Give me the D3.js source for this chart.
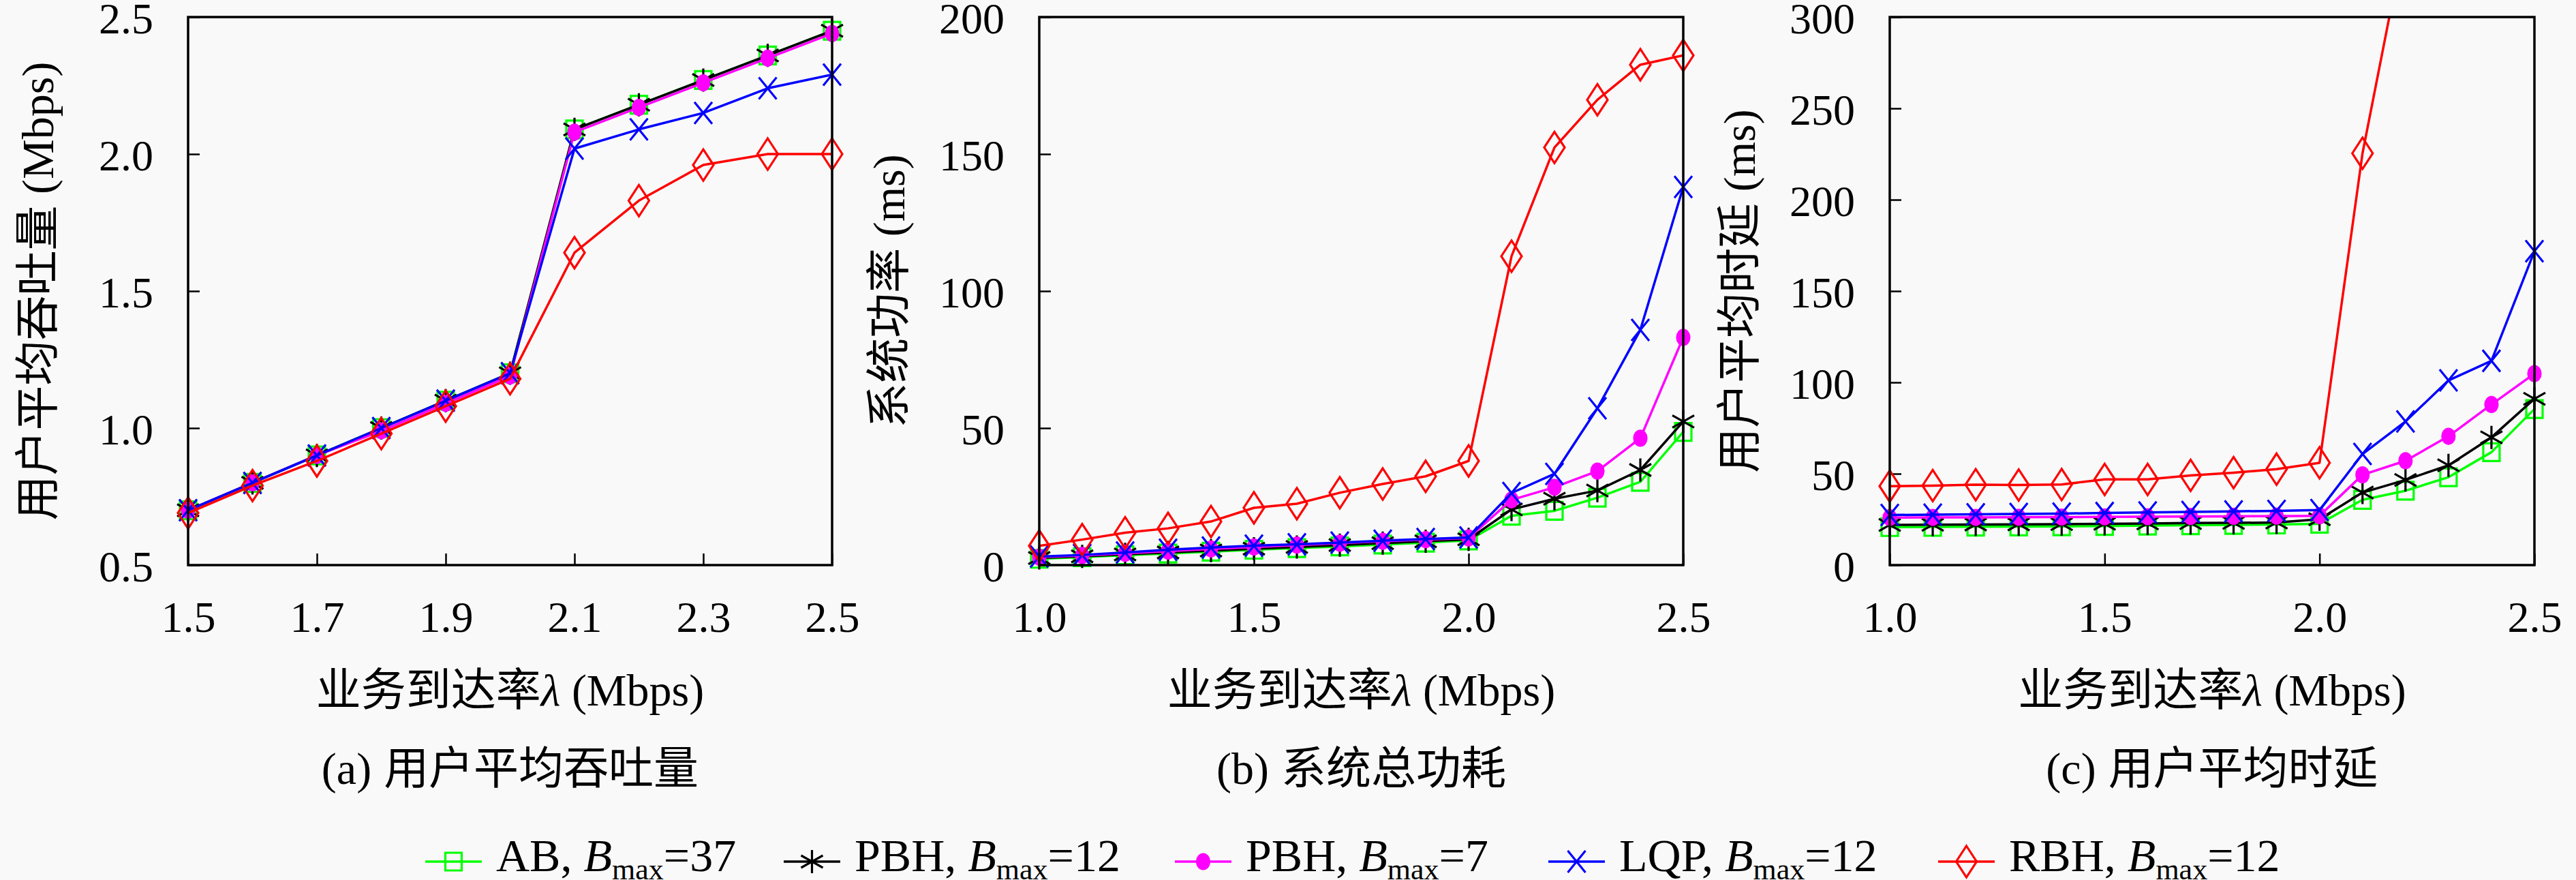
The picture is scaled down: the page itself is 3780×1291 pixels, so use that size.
<!DOCTYPE html>
<html>
<head>
<meta charset="utf-8">
<script src="https://cdn.jsdelivr.net/npm/d3@7"></script>
<style>
  body { margin: 0; background: #f9f9f9; }
  svg { display: block; }
  text { font-family: "Liberation Serif", "Noto Sans CJK SC", serif; fill: #000; }
</style>
</head>
<body>
<svg id="chart" width="3780" height="1291"></svg>
<script>
// arrival rate values on the x axis (Mbps)
const rateA = [1.5, 1.6, 1.7, 1.8, 1.9, 2.0, 2.1, 2.2, 2.3, 2.4, 2.5];
const rateBC = [1.0, 1.1, 1.2, 1.3, 1.4, 1.5, 1.6, 1.7, 1.8, 1.9, 2.0, 2.1, 2.2, 2.3, 2.4, 2.5];

// (a) average user throughput (Mbps)
const abThroughput    = [0.70, 0.80, 0.90, 1.00, 1.10, 1.20, 2.09, 2.18, 2.27, 2.36, 2.45];
const pbh12Throughput = [0.70, 0.80, 0.90, 1.00, 1.10, 1.20, 2.09, 2.18, 2.27, 2.36, 2.45];
const pbh7Throughput  = [0.70, 0.80, 0.90, 0.99, 1.09, 1.19, 2.08, 2.17, 2.26, 2.35, 2.44];
const lqpThroughput   = [0.70, 0.80, 0.90, 1.00, 1.10, 1.20, 2.02, 2.09, 2.15, 2.24, 2.29];
const rbhThroughput   = [0.69, 0.79, 0.88, 0.98, 1.08, 1.18, 1.64, 1.83, 1.96, 2.00, 2.00];

// (b) total system power
const abPower    = [2.3, 2.9, 3.6, 4.2, 4.9, 5.6, 6.2, 6.8, 7.5, 8.2, 9.0, 18.0, 19.8, 24.6, 30.4, 48.6];
const pbh12Power = [2.6, 3.2, 3.9, 4.6, 5.3, 6.0, 6.6, 7.3, 8.0, 8.7, 9.4, 20.3, 24.2, 27.2, 34.7, 52.4];
const pbh7Power  = [2.9, 3.5, 4.3, 5.1, 5.9, 6.6, 7.3, 8.0, 8.7, 9.3, 9.9, 23.8, 28.4, 34.3, 46.3, 83.1];
const lqpPower   = [3.1, 3.7, 4.6, 5.6, 6.4, 7.1, 7.6, 8.2, 8.9, 9.5, 10.1, 26.3, 33.3, 57.2, 85.8, 138.0];
const rbhPower   = [7.0, 9.3, 11.8, 13.4, 15.9, 20.9, 22.4, 26.4, 29.6, 32.4, 38.0, 112.7, 152.4, 169.8, 182.6, 186.0];

// (c) average user delay (ms), RBH leaves the axis after 2.1
const abDelay    = [20.8, 20.9, 21.0, 21.1, 21.2, 21.4, 21.6, 21.8, 22.0, 22.2, 22.6, 35.7, 40.7, 48.1, 61.8, 85.4];
const pbh12Delay = [22.0, 22.1, 22.2, 22.3, 22.4, 22.6, 22.8, 23.0, 23.1, 23.3, 25.1, 39.7, 46.6, 54.6, 69.9, 91.0];
const pbh7Delay  = [26.0, 26.1, 26.1, 26.2, 26.3, 26.4, 26.5, 26.6, 26.7, 26.8, 27.0, 49.4, 57.1, 70.5, 87.9, 104.8];
const lqpDelay   = [27.4, 27.6, 27.8, 28.0, 28.2, 28.5, 28.8, 29.1, 29.4, 29.7, 30.1, 60.8, 78.6, 101.1, 111.8, 171.8];
const rbhDelay   = [43.2, 43.5, 44.0, 43.8, 44.1, 46.9, 46.9, 49.1, 50.6, 52.5, 56.0, 225.4, 345.0, 380.0, 400.0, 410.0];

// tick values
const xTicksA = [1.5, 1.7, 1.9, 2.1, 2.3, 2.5];
const xTicksBC = [1.0, 1.5, 2.0, 2.5];
const yTicksA = [0.5, 1.0, 1.5, 2.0, 2.5];
const yTicksB = [0, 50, 100, 150, 200];
const yTicksC = [0, 50, 100, 150, 200, 250, 300];

// legend labels
const seriesNames = ["AB", "PBH", "PBH", "LQP", "RBH"];
const seriesBmax = ["37", "12", "7", "12", "12"];

// styles for each series (same order as the names)
const seriesStyles = [
  { colour: "#00ff00", marker: "square" },
  { colour: "#000000", marker: "asterisk" },
  { colour: "#ff00ff", marker: "dot" },
  { colour: "#0000ff", marker: "cross" },
  { colour: "#ff0000", marker: "diamond" }
];

const markerPaths = {
  square: "M-12,-13h24v26h-24z",
  asterisk: "M0,-17V17M-16,-9L16,9M-16,9L16,-9",
  dot: "M-9,0a9,11 0 1,0 18,0a9,11 0 1,0 -18,0",
  cross: "M-13,-16L13,16M-13,16L13,-16",
  diamond: "M0,-23L15,0L0,23L-15,0Z"
};

class linePanel {
  constructor(_config, _data) {
    // Set up configuration of the panel
    this.config = {
      parentElement: _config.parentElement,
      left: _config.left,
      right: _config.right,
      top: _config.top || 25,
      bottom: _config.bottom || 829,
      xTicks: _config.xTicks,
      yTicks: _config.yTicks,
      yFormat: _config.yFormat,
      yLabel: _config.yLabel,
      caption: _config.caption,
      id: _config.id
    }
    this.data = _data;
  }

  initVis() {
    let vis = this;
    let c = vis.config;

    vis.svg = d3.select(c.parentElement);
    vis.chart = vis.svg.append("g").attr("id", c.id);

    vis.xScale = d3.scaleLinear()
      .domain(d3.extent(vis.data.x))
      .range([c.left, c.right]);

    vis.yScale = d3.scaleLinear()
      .domain(d3.extent(c.yTicks))
      .range([c.bottom, c.top]);

    // ticks point inwards, only on left and bottom
    vis.xAxis = d3.axisBottom(vis.xScale)
      .tickValues(c.xTicks)
      .tickSize(-17)
      .tickPadding(53)
      .tickFormat(d3.format(".1f"));

    vis.yAxis = d3.axisLeft(vis.yScale)
      .tickValues(c.yTicks)
      .tickSize(-17)
      .tickPadding(51)
      .tickFormat(c.yFormat);

    // clip lines that run off the top
    vis.chart.append("clipPath")
      .attr("id", c.id + "-clip")
      .append("rect")
        .attr("x", c.left)
        .attr("y", c.top)
        .attr("width", c.right - c.left)
        .attr("height", c.bottom - c.top);

    vis.line = d3.line()
      .x(d => vis.xScale(d.x))
      .y(d => vis.yScale(d.y));

    vis.render();
  }

  render() {
    let vis = this;
    let c = vis.config;
    let yMax = vis.yScale.domain()[1];

    vis.series = vis.data.series.map(s => ({
      style: s.style,
      points: vis.data.x.map((x, i) => ({ x: x, y: s.values[i] }))
    }));

    // axes
    let xAxisG = vis.chart.append("g")
      .attr("transform", `translate(0,${c.bottom})`)
      .call(vis.xAxis);
    let yAxisG = vis.chart.append("g")
      .attr("transform", `translate(${c.left},0)`)
      .call(vis.yAxis);

    [xAxisG, yAxisG].forEach(g => {
      g.select(".domain").remove();
      g.selectAll(".tick line").attr("stroke", "#000").attr("stroke-width", 2.5);
      g.selectAll(".tick text")
        .attr("font-family", "Liberation Serif")
        .attr("font-size", 64)
        .attr("fill", "#000");
    });
    yAxisG.selectAll(".tick text").attr("dy", "0.36em");

    // one group per series: line then markers
    let seriesG = vis.chart.selectAll("g.series")
      .data(vis.series)
      .join("g")
        .attr("class", "series");

    seriesG.append("path")
      .attr("clip-path", `url(#${c.id}-clip)`)
      .attr("fill", "none")
      .attr("stroke", d => d.style.colour)
      .attr("stroke-width", 3.5)
      .attr("stroke-linejoin", "round")
      .attr("d", d => vis.line(d.points));

    seriesG.selectAll("path.marker")
      .data(d => d.points.filter(p => p.y <= yMax).map(p => ({ p: p, style: d.style })))
      .join("path")
        .attr("class", "marker")
        .attr("transform", d => `translate(${vis.xScale(d.p.x)},${vis.yScale(d.p.y)})`)
        .attr("d", d => markerPaths[d.style.marker])
        .attr("fill", d => d.style.marker === "dot" ? d.style.colour : "none")
        .attr("stroke", d => d.style.colour)
        .attr("stroke-width", 3.2);

    // frame
    vis.chart.append("rect")
      .attr("x", c.left)
      .attr("y", c.top)
      .attr("width", c.right - c.left)
      .attr("height", c.bottom - c.top)
      .attr("fill", "none")
      .attr("stroke", "#000")
      .attr("stroke-width", 3.5);

    let midX = (c.left + c.right) / 2;
    let midY = (c.top + c.bottom) / 2;

    // y axis label
    vis.chart.append("text")
      .attr("transform", `translate(${c.left - 222},${midY}) rotate(-90)`)
      .attr("text-anchor", "middle")
      .attr("dy", "0.36em")
      .attr("font-size", 66)
      .text(c.yLabel);

    // x axis label
    let xl = vis.chart.append("text")
      .attr("x", midX)
      .attr("y", 1035)
      .attr("text-anchor", "middle")
      .attr("font-size", 66);
    xl.append("tspan").text("业务到达率");
    xl.append("tspan").attr("font-style", "italic").text("λ");
    xl.append("tspan").text(" (Mbps)");

    // sub-figure caption
    let cap = vis.chart.append("text")
      .attr("x", midX)
      .attr("y", 1150)
      .attr("text-anchor", "middle")
      .attr("font-size", 66);
    cap.append("tspan").text(c.caption[0]);
    cap.append("tspan").attr("dx", 18).text(c.caption[1]);
  }
}

const svg = d3.select("#chart");
svg.append("rect").attr("width", 3780).attr("height", 1291).attr("fill", "#f9f9f9");

const panelA = new linePanel({
  parentElement: "#chart", id: "panelA", left: 276, right: 1221,
  xTicks: xTicksA, yTicks: yTicksA, yFormat: d3.format(".1f"),
  yLabel: "用户平均吞吐量 (Mbps)", caption: ["(a)", "用户平均吞吐量"]
}, {
  x: rateA,
  series: [abThroughput, pbh12Throughput, pbh7Throughput, lqpThroughput, rbhThroughput]
    .map((v, i) => ({ values: v, style: seriesStyles[i] }))
});
panelA.initVis();

const panelB = new linePanel({
  parentElement: "#chart", id: "panelB", left: 1525, right: 2470,
  xTicks: xTicksBC, yTicks: yTicksB, yFormat: d3.format("d"),
  yLabel: "系统功率 (ms)", caption: ["(b)", "系统总功耗"]
}, {
  x: rateBC,
  series: [abPower, pbh12Power, pbh7Power, lqpPower, rbhPower]
    .map((v, i) => ({ values: v, style: seriesStyles[i] }))
});
panelB.initVis();

const panelC = new linePanel({
  parentElement: "#chart", id: "panelC", left: 2773, right: 3719,
  xTicks: xTicksBC, yTicks: yTicksC, yFormat: d3.format("d"),
  yLabel: "用户平均时延 (ms)", caption: ["(c)", "用户平均时延"]
}, {
  x: rateBC,
  series: [abDelay, pbh12Delay, pbh7Delay, lqpDelay, rbhDelay]
    .map((v, i) => ({ values: v, style: seriesStyles[i] }))
});
panelC.initVis();

// legend along the bottom
const legendLineX = [624, 1150, 1724, 2272, 2844];
const legendY = 1264;

const legend = svg.append("g").attr("id", "legend");
seriesStyles.forEach((s, i) => {
  let x0 = legendLineX[i];
  let item = legend.append("g");
  item.append("line")
    .attr("x1", x0).attr("x2", x0 + 83)
    .attr("y1", legendY).attr("y2", legendY)
    .attr("stroke", s.colour)
    .attr("stroke-width", 3.5);
  item.append("path")
    .attr("transform", `translate(${x0 + 41.5},${legendY})`)
    .attr("d", markerPaths[s.marker])
    .attr("fill", s.marker === "dot" ? s.colour : "none")
    .attr("stroke", s.colour)
    .attr("stroke-width", 3.2);
  let t = item.append("text")
    .attr("x", x0 + 104)
    .attr("y", 1278)
    .attr("font-size", 68);
  t.append("tspan").text(seriesNames[i] + ", ");
  t.append("tspan").attr("font-style", "italic").text("B");
  t.append("tspan").attr("font-size", 44).attr("dy", 12).text("max");
  t.append("tspan").attr("dy", -12).text("=" + seriesBmax[i]);
});
</script>
</body>
</html>
